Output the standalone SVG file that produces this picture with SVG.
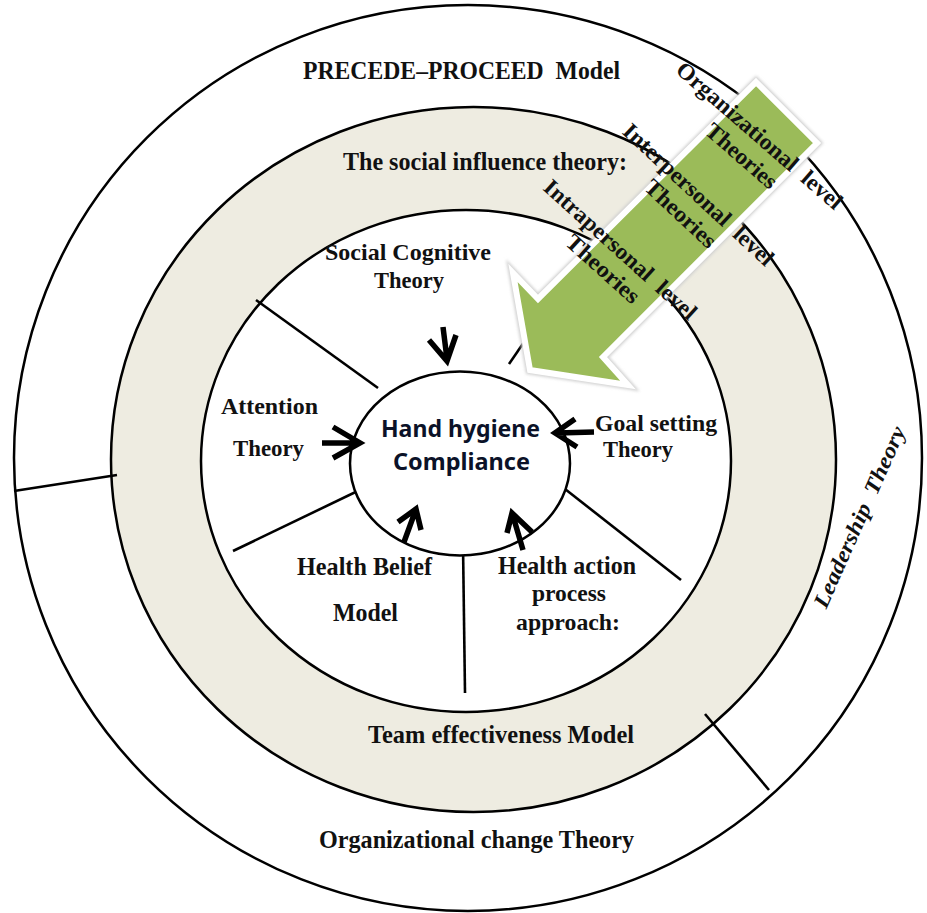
<svg xmlns="http://www.w3.org/2000/svg" width="927" height="913" viewBox="0 0 927 913">
  <style>
    .ring { stroke: #000; stroke-width: 2.5; }
    .div { stroke: #000; stroke-width: 2.6; fill: none; }
    .lbl { font-family: "Liberation Serif", "Times New Roman", serif; font-weight: bold; font-size: 24px; fill: #111; }
    .tall { font-size: 26px; }
    .lvl { font-family: "Liberation Serif", "Times New Roman", serif; font-weight: bold; font-size: 23px; fill: #111; text-anchor: middle; }
    .core { font-family: "Noto Sans", "Open Sans", sans-serif; font-weight: bold; font-size: 23px; fill: #0b1228; }
    .ptr { stroke: #000; stroke-width: 5.5; fill: none; stroke-linejoin: miter; }
  </style>
  <defs>
    <filter id="soft" x="-10%" y="-10%" width="120%" height="120%">
      <feGaussianBlur stdDeviation="1.5"/>
    </filter>
  </defs>

  <rect width="927" height="913" fill="#fff"/>

  <!-- nested levels -->
  <g id="organizational-ring">
    <ellipse class="ring" cx="468" cy="458" rx="454" ry="453" fill="#fff"/>
  </g>
  <g id="interpersonal-ring">
    <ellipse class="ring" cx="473.5" cy="459.5" rx="362.5" ry="352.5" fill="#EEECE1"/>
  </g>
  <g id="intrapersonal-ring">
    <ellipse class="ring" cx="466" cy="461" rx="265" ry="251" fill="#fff"/>
  </g>

  <!-- dividers between theories -->
  <g id="connectors">
    <line class="div" x1="14" y1="491" x2="117" y2="475"/>
    <line class="div" x1="705" y1="714" x2="769" y2="790"/>
    <line class="div" x1="256" y1="300" x2="378" y2="388"/>
    <line class="div" x1="233" y1="551" x2="366" y2="487"/>
    <line class="div" x1="463" y1="545" x2="465" y2="693"/>
    <line class="div" x1="565" y1="489" x2="681" y2="580"/>
    <line class="div" x1="509" y1="364" x2="550" y2="304"/>
  </g>

  <g id="hand-hygiene-compliance">
    <ellipse class="ring" cx="460" cy="463.5" rx="110" ry="92" fill="#fff"/>
    <text class="core" x="381" y="437" textLength="159" lengthAdjust="spacingAndGlyphs">Hand hygiene</text>
    <text class="core" x="393" y="470" textLength="137" lengthAdjust="spacingAndGlyphs">Compliance</text>
  </g>

  <!-- inward pointers -->
  <g id="pointers">
    <path class="ptr" d="M443,327 L447,359 M429,340 L447,361 L456,335"/>
    <path class="ptr" d="M322,443 L358,443 M333,427 L360,443 L333,458"/>
    <path class="ptr" d="M594,432 L557,433 M575,419 L555,433 L577,447"/>
    <path class="ptr" d="M404,542 L415,512 M398,522 L416,509 L421,530"/>
    <path class="ptr" d="M523,550 L513,516 M507,533 L512,513 L532,532"/>
  </g>

  <!-- level arrow -->
  <g id="level-arrow">
    <polygon points="756,82 817,143 603,357 628,385 530,370 513,273 538,299" fill="none" stroke="#d0d0d0" stroke-width="9" stroke-linejoin="miter" filter="url(#soft)"/>
    <polygon points="756,82 817,143 603,357 628,385 530,370 513,273 538,299" fill="#9BBB59" stroke="#fff" stroke-width="6" stroke-linejoin="miter"/>
  </g>

  <g id="organizational-level">
    <g transform="translate(759,136) rotate(41)">
      <text class="lvl" x="0" y="7" textLength="212" lengthAdjust="spacingAndGlyphs">Organizational&#160; level</text>
      <text class="lvl" x="0" y="34" textLength="87" lengthAdjust="spacingAndGlyphs">Theories</text>
    </g>
  </g>
  <g id="interpersonal-level">
    <g transform="translate(698,195) rotate(43)">
      <text class="lvl" x="0" y="7" textLength="197" lengthAdjust="spacingAndGlyphs">Interpersonal&#160; level</text>
      <text class="lvl" x="0" y="33" textLength="89" lengthAdjust="spacingAndGlyphs">Theories</text>
    </g>
  </g>
  <g id="intrapersonal-level">
    <g transform="translate(620,250) rotate(42)">
      <text class="lvl" x="0" y="7" textLength="197" lengthAdjust="spacingAndGlyphs">Intrapersonal&#160; level</text>
      <text class="lvl" x="0" y="33" textLength="91" lengthAdjust="spacingAndGlyphs">Theories</text>
    </g>
  </g>

  <!-- theory labels -->
  <g id="precede-proceed"><text class="lbl tall" x="303" y="79" textLength="317" lengthAdjust="spacingAndGlyphs">PRECEDE–PROCEED&#160; Model</text></g>
  <g id="social-influence"><text class="lbl tall" x="343" y="170" textLength="284" lengthAdjust="spacingAndGlyphs">The social influence theory:</text></g>
  <g id="social-cognitive">
    <text class="lbl" x="325" y="260" textLength="166" lengthAdjust="spacingAndGlyphs">Social Cognitive</text>
    <text class="lbl" x="374" y="288" textLength="70" lengthAdjust="spacingAndGlyphs">Theory</text>
  </g>
  <g id="attention">
    <text class="lbl" x="221" y="414" textLength="97" lengthAdjust="spacingAndGlyphs">Attention</text>
    <text class="lbl" x="233" y="456" textLength="71" lengthAdjust="spacingAndGlyphs">Theory</text>
  </g>
  <g id="goal-setting">
    <text class="lbl" x="595" y="431" textLength="122" lengthAdjust="spacingAndGlyphs">Goal setting</text>
    <text class="lbl" x="603" y="457" textLength="70" lengthAdjust="spacingAndGlyphs">Theory</text>
  </g>
  <g id="health-belief">
    <text class="lbl tall" x="297" y="575" textLength="135" lengthAdjust="spacingAndGlyphs">Health Belief</text>
    <text class="lbl tall" x="333" y="621" textLength="65" lengthAdjust="spacingAndGlyphs">Model</text>
  </g>
  <g id="health-action">
    <text class="lbl tall" x="498" y="574" textLength="138" lengthAdjust="spacingAndGlyphs">Health action</text>
    <text class="lbl" x="532" y="601" textLength="74" lengthAdjust="spacingAndGlyphs">process</text>
    <text class="lbl" x="516" y="630" textLength="104" lengthAdjust="spacingAndGlyphs">approach:</text>
  </g>
  <g id="team-effectiveness"><text class="lbl tall" x="368" y="743" textLength="266" lengthAdjust="spacingAndGlyphs">Team effectiveness Model</text></g>
  <g id="organizational-change"><text class="lbl tall" x="319" y="848" textLength="315" lengthAdjust="spacingAndGlyphs">Organizational change Theory</text></g>
  <g id="leadership">
    <text transform="translate(866,520) rotate(-66)" x="0" y="0" text-anchor="middle" textLength="196" lengthAdjust="spacingAndGlyphs" style="font-family:'Liberation Serif','Times New Roman',serif;font-weight:bold;font-style:italic;font-size:22px;fill:#111">Leadership&#160; Theory</text>
  </g>
</svg>
